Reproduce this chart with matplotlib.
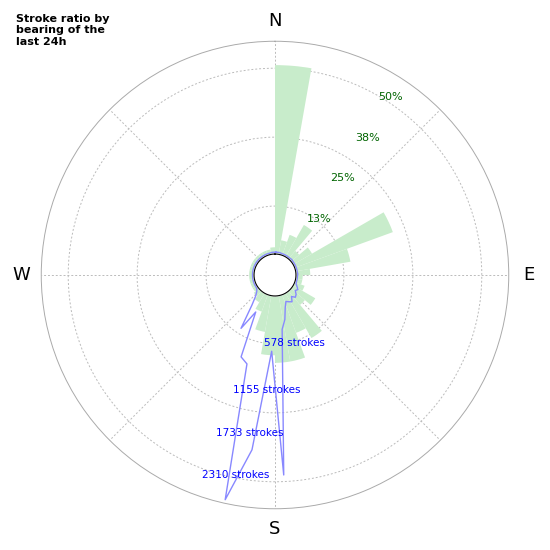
import numpy as np
import matplotlib.pyplot as plt

# green: stroke ratio (%) per 10 degree bearing bin (centres 5, 15, ... 355)
ratio_pct = [49.5, 3, 5, 9, 2, 5, 27, 14, 3, 1,
             1, 2, 6, 4, 13, 10, 17, 17, 15, 9,
             4, 2, 1, 0.5, 0.5, 0.5, 0.5, 0.5, 0.5, 0.5,
             0.5, 0.5, 0.5, 0.5, 0.5, 1]
# blue: stroke counts per 5 degree bearing bin (centres 2.5, 7.5, ... 357.5)
strokes = [5, 5, 5, 0, 0, 0, 0, 0, 0, 5, 0, 0,
           0, 0, 0, 0, 0, 5, 0, 0, 0, 0, 5, 30,
           60, 40, 80, 100, 60, 120, 100, 80, 150, 300, 420, 2310,
           700, 2000, 2700, 920, 860, 250, 530, 200, 80, 30, 5, 0,
           0, 0, 0, 0, 0, 0, 0, 0, 0, 0, 0, 0,
           0, 0, 0, 0, 0, 0, 0, 0, 0, 0, 5, 5]
ratio_ticks = [12.5, 25, 37.5, 50]
ratio_labels = ["13%", "25%", "38%", "50%"]
stroke_ticks = [578, 1155, 1733, 2310]
stroke_label_angles = [164, 184, 189, 191]

HOLE = 21


def r_ratio(p):
    return 24 + 3.76 * np.asarray(p, float)


def r_strokes(n):
    return 26.5 + 0.077 * np.asarray(n, float)


fig = plt.figure(figsize=(5.5, 5.5), dpi=100)
ax = fig.add_axes([0.075, 0.075, 0.85, 0.85], projection="polar")
ax.set_theta_zero_location("N")
ax.set_theta_direction(-1)
ax.set_ylim(0, 234)

th10 = np.deg2rad(np.arange(5, 360, 10))
ax.bar(th10, r_ratio(ratio_pct) - HOLE, bottom=HOLE, width=np.deg2rad(10),
       color="#c8eccb", edgecolor="none", zorder=2)

th5 = np.deg2rad(np.arange(2.5, 360, 5))
rs = np.maximum(r_strokes(strokes) - 4, HOLE + 0.5)
ax.plot(np.append(th5, th5[0]), np.append(rs, rs[0]), color="#8888ff", lw=1, zorder=3)

t = np.linspace(0, 2 * np.pi, 200)
ax.fill(t, np.full_like(t, HOLE), color="white", zorder=4)
ax.plot(t, np.full_like(t, HOLE), color="black", lw=0.8, zorder=5)

ax.set_rgrids([69, 138, 207], labels=[])
ax.set_thetagrids(np.arange(0, 360, 45), labels=[])
ax.grid(color="#bbbbbb", ls=(0, (2, 2)), lw=0.7)
ax.spines["polar"].set_color("#aaaaaa")
ax.spines["polar"].set_linewidth(0.7)

for lab, ang in zip("NESW", [0, 90, 180, 270]):
    ax.text(np.deg2rad(ang), 254, lab, fontsize=13, ha="center", va="center")

for v, lab, ang in zip(ratio_ticks, ratio_labels, [38, 35, 34, 33]):
    ax.text(np.deg2rad(ang), r_ratio(v), lab, color="darkgreen", fontsize=8,
            ha="center", va="center", zorder=6)
for v, ang in zip(stroke_ticks, stroke_label_angles):
    ax.text(np.deg2rad(ang), r_strokes(v), f"{v} strokes", color="blue",
            fontsize=7.5, ha="center", va="center", zorder=6)

fig.text(0.03, 0.975, "Stroke ratio by\nbearing of the\nlast 24h", fontsize=8,
         fontweight="bold", ha="left", va="top")

fig.savefig("out.png", dpi=100)
